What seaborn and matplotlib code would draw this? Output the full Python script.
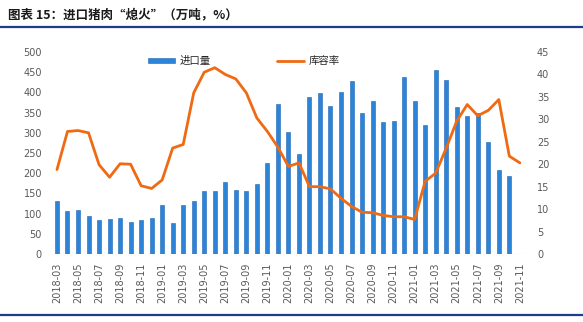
import numpy as np
import pandas as pd
import matplotlib
matplotlib.use("Agg")
import matplotlib.pyplot as plt
from matplotlib.lines import Line2D
from matplotlib.patches import Patch
import seaborn as sns

months = [f"{y}-{m:02d}" for y in (2018, 2019, 2020, 2021) for m in range(1, 13)]
months = months[2:47]  # 2018-03 .. 2021-11

import_vol = [132, 106, 110, 93, 83, 87, 88, 78, 85, 90, 121, 76,
              122, 131, 155, 155, 177, 158, 157, 174, 226, 372,
              302, 247, 389, 398, 367, 400, 427, 348, 378, 327,
              329, 438, 378, 319, 456, 430, 363, 342, 349, 276,
              207, 194, np.nan]
storage_rate = [18.8, 27.3, 27.5, 27.0, 19.9, 17.1, 20.1, 20.0, 15.2, 14.6,
                16.5, 23.6, 24.4, 35.9, 40.5, 41.5, 40.0, 39.0, 35.9, 30.3,
                27.3, 23.8, 19.5, 20.3, 15.0, 15.0, 14.5, 12.4, 10.6, 9.3,
                9.2, 8.6, 8.3, 8.3, 7.7, 16.2, 18.0, 23.6, 29.6, 33.3,
                30.8, 32.0, 34.4, 21.8, 20.3]

title = "图表 15：进口猪肉“熄火”（万吨，%）"
bar_label = "进口量"
line_label = "库容率"

df = pd.DataFrame({"month": months, "import": import_vol,
                   "rate": storage_rate, "idx": np.arange(len(months))})

sns.set_theme(style="white")
plt.rcParams["font.family"] = ["DejaVu Sans", "Noto Sans CJK SC"]

bar_color = "#2B84D8"
line_color = "#EF6A12"
tick_color = "#595959"

fig = plt.figure(figsize=(5.83, 3.22), dpi=100)
ax = fig.add_axes([0.0887, 0.2112, 0.812, 0.6273])

sns.barplot(data=df, x="month", y="import", order=months, ax=ax,
            color=bar_color, width=0.38, edgecolor="#1E64B4", linewidth=0.4,
            saturation=1, errorbar=None)
ax.set_xlim(-0.5, len(months) - 0.5)
ax.set_ylim(0, 500)
ax.set_yticks(np.arange(0, 501, 50))

ax2 = ax.twinx()
sns.lineplot(data=df, x="idx", y="rate", ax=ax2, color=line_color, lw=2.0)
ax2.set_ylim(0, 45)
ax2.set_yticks(np.arange(0, 46, 5))
ax2.set_xlim(-0.5, len(months) - 0.5)

ax.set_xticks(np.arange(0, len(months), 2))
ax.set_xticklabels(months[::2], rotation=90)
for a in (ax, ax2):
    a.set_xlabel("")
    a.set_ylabel("")
    for s in a.spines.values():
        s.set_visible(False)
ax.tick_params(axis="x", length=0, pad=6, labelsize=7, colors=tick_color)
ax.tick_params(axis="y", length=0, pad=7, labelsize=7, colors=tick_color)
ax2.tick_params(axis="y", length=0, pad=8.5, labelsize=7, colors=tick_color)
ax.axhline(0, color="#D9D9D9", lw=0.8, zorder=0)

handles = [Patch(facecolor=bar_color, edgecolor="#1E64B4", linewidth=0.4),
           Line2D([0], [0], color=line_color, lw=2.0)]
fig.legend(handles, [bar_label, line_label], loc="center left",
           bbox_to_anchor=(0.238, 0.81), ncol=2, frameon=False,
           handlelength=2.6, handleheight=0.5,
           columnspacing=6.4, handletextpad=0.4,
           prop={"family": ["Noto Sans CJK SC"], "size": 7.5})

fig.text(0.014, 0.955, title, fontsize=9, fontweight="bold",
         family=["Noto Sans CJK SC", "DejaVu Sans"], color="#1a1a1a",
         va="center", ha="left")
fig.add_artist(Line2D([0, 1], [0.916, 0.916], color="#1F3C88", lw=1.6))
fig.add_artist(Line2D([0, 1], [0.021, 0.021], color="#1F3C88", lw=1.6))

fig.savefig("out.png", dpi=100)
